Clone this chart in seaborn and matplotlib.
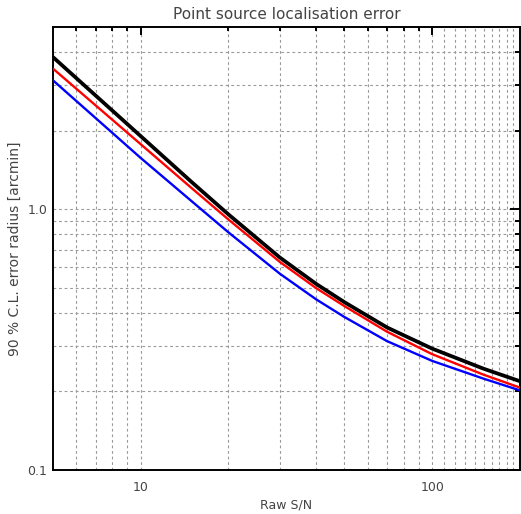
import numpy as np
import pandas as pd
import matplotlib
matplotlib.use('Agg')
import matplotlib.pyplot as plt
import seaborn as sns
from matplotlib.ticker import FixedLocator, FixedFormatter, NullFormatter

# raw S/N where the curves were read
snr = [5, 10, 15, 20, 30, 40, 50, 70, 100, 150, 200]

# 90% C.L. error radius [arcmin] for the three curves
err_black = [3.83, 1.906, 1.267, 0.955, 0.653, 0.517, 0.440, 0.352, 0.292, 0.2446, 0.219]
err_red = [3.46, 1.775, 1.201, 0.913, 0.628, 0.498, 0.425, 0.339, 0.278, 0.232, 0.207]
err_blue = [3.12, 1.572, 1.07, 0.815, 0.566, 0.451, 0.386, 0.312, 0.262, 0.224, 0.202]

x_ticks = [10, 100]
x_labels = ['10', '100']
y_ticks = [0.1, 1.0]
y_labels = ['0.1', '1.0']

data = pd.DataFrame({
    'snr': snr * 3,
    'err': err_black + err_red + err_blue,
    'curve': ['black'] * len(snr) + ['red'] * len(snr) + ['blue'] * len(snr),
})

sns.set_style('white')
plt.rcParams['font.family'] = ['DejaVu Sans']

fig = plt.figure(figsize=(5.21, 5.14), dpi=100)
ax = fig.add_axes([0.1017, 0.0856, 0.8963, 0.862])

ax.set_xscale('log')
ax.set_yscale('log')
ax.set_xlim(5, 200)
ax.set_ylim(0.1, 5)

#dotted grid like the IDL plot (x grid keeps going past 100 without tick marks)
grid_kw = dict(color='#9a9a9a', linestyle=(0, (2.5, 2.5)), lw=0.8, zorder=0)
x_grid = [6, 7, 8, 9, 10, 20, 30, 40, 50, 60, 70, 80, 90, 100,
          110, 120, 130, 140, 150, 160, 170, 180, 190]
y_grid = [0.2, 0.3, 0.4, 0.5, 0.6, 0.7, 0.8, 0.9, 1.0, 2.0, 3.0, 4.0]
for gx in x_grid:
    ax.axvline(gx, **grid_kw)
for gy in y_grid:
    ax.axhline(gy, **grid_kw)

# thin lines first, thick black on top
sns.lineplot(data=data[data['curve'] == 'blue'], x='snr', y='err', color='#0000ff', lw=1.7, ax=ax, zorder=3)
sns.lineplot(data=data[data['curve'] == 'red'], x='snr', y='err', color='#ff0000', lw=1.7, ax=ax, zorder=4)
sns.lineplot(data=data[data['curve'] == 'black'], x='snr', y='err', color='black', lw=2.7, ax=ax, zorder=5)

ax.set_xlim(5, 200)
ax.set_ylim(0.1, 5)

ax.xaxis.set_major_locator(FixedLocator(x_ticks))
ax.xaxis.set_major_formatter(FixedFormatter(x_labels))
ax.xaxis.set_minor_locator(FixedLocator([6, 7, 8, 9, 20, 30, 40, 50, 60, 70, 80, 90]))
ax.xaxis.set_minor_formatter(NullFormatter())
ax.yaxis.set_major_locator(FixedLocator(y_ticks))
ax.yaxis.set_major_formatter(FixedFormatter(y_labels))
ax.yaxis.set_minor_locator(FixedLocator(y_grid[:8] + y_grid[9:]))
ax.yaxis.set_minor_formatter(NullFormatter())
ax.grid(False)

ax.tick_params(which='both', direction='in', top=True, right=True, colors='black',
               labelcolor='#444444', labelsize=9, width=1.4)
ax.tick_params(axis='x', which='major', length=5.8, pad=8)
ax.tick_params(axis='x', which='minor', length=2.9)
ax.tick_params(axis='y', which='major', length=7.2, pad=4)
ax.tick_params(axis='y', which='minor', length=3.6)
for s in ax.spines.values():
    s.set_linewidth(1.4)
    s.set_color('black')

ax.set_title('Point source localisation error', fontsize=11, color='#444444', pad=6)
ax.set_xlabel('Raw S/N', fontsize=9, color='#444444', labelpad=3)
ax.set_ylabel('90 % C.L. error radius [arcmin]', fontsize=10, color='#444444', labelpad=4)

fig.savefig('out.png', dpi=100)
